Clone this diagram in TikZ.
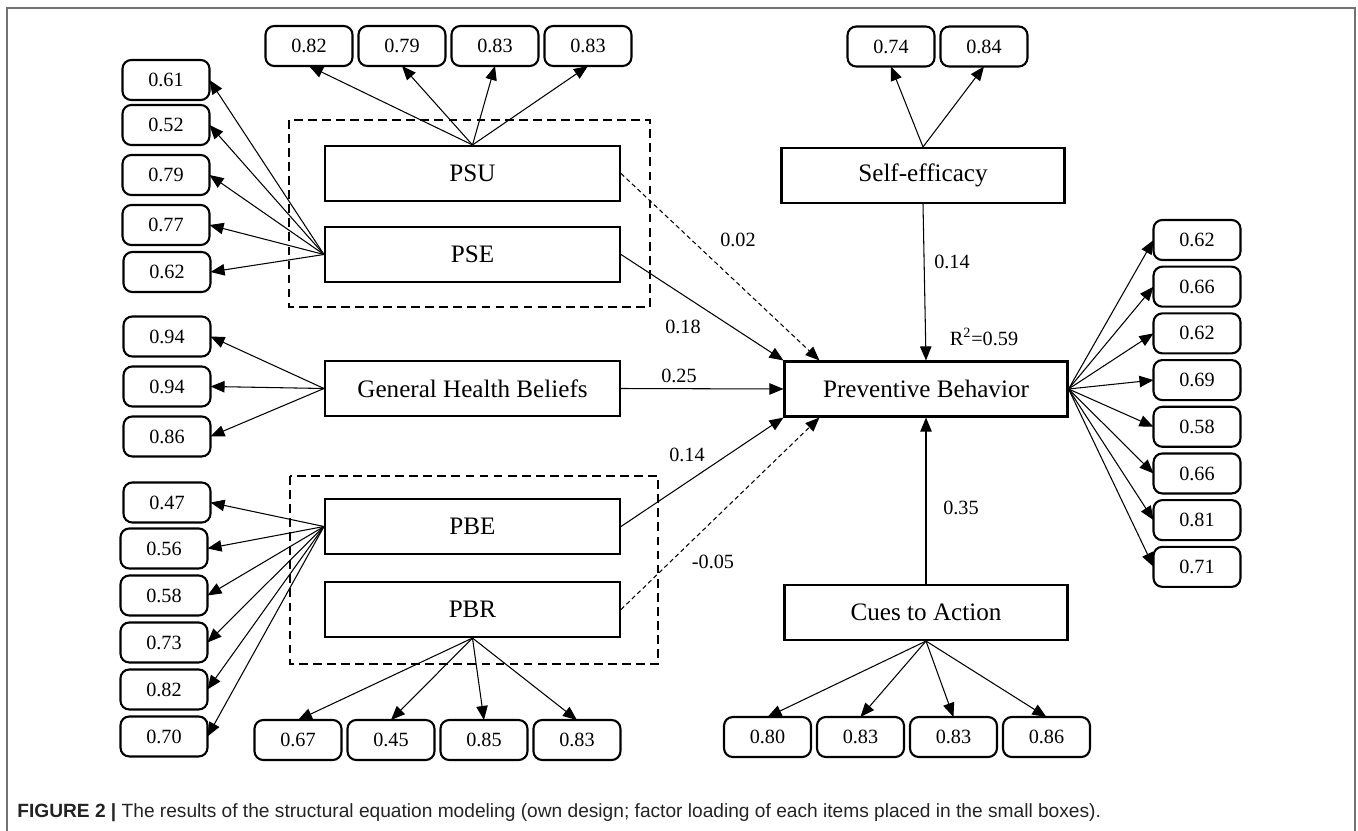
\documentclass[tikz,border=0pt]{standalone}
\usepackage{fontspec}
\setmainfont{Liberation Serif}
\newfontfamily\captionsans{Liberation Sans}
\usetikzlibrary{positioning,arrows.meta}
\definecolor{colorframe}  {RGB}{115,115,115}
\definecolor{colorcaption}{RGB}{35 ,35 ,35 }

\begin{document}
\begin{tikzpicture}[
    x=0.02cm, y=-0.02cm,
    font={\fontsize{11.5}{13}\selectfont},
    latent/.style={draw,line width=1.2pt,rectangle,minimum width=5.9cm,minimum height=1.1cm,inner sep=0pt,font={\fontsize{14.3}{16}\selectfont}},
    outcome/.style={latent,minimum width=5.66cm},
    loading/.style={draw,line width=1.2pt,rounded corners=5pt,minimum width=1.74cm,minimum height=0.8cm,inner sep=0pt,outer sep=0pt},
    coef/.style={inner sep=1pt},
    path/.style={-{Triangle[length=8pt,width=6.5pt]},line width=0.6pt},
    weak/.style={path,dash pattern=on 2.5pt off 1.8pt},
    group/.style={line width=1.1pt,dash pattern=on 5pt off 3pt},
]
    \useasboundingbox (0,0) rectangle (1358,831);

    % Frame
    \draw[colorframe,line width=1.1pt] (7,831) -- (7,8) -- (1355,8) -- (1355,831);

    % Constructs
    \node[latent] (psu) at (472.5,173.5) {PSU};
    \node[latent] (pse) at (472.5,254.5) {PSE};
    \node[latent] (ghb) at (472.5,388.5) {General Health Beliefs};
    \node[latent] (pbe) at (472.5,526.5) {PBE};
    \node[latent] (pbr) at (472.5,609.5) {PBR};
    \node[outcome] (selfeff) at (923,175.5) {Self-efficacy};
    \node[outcome] (pb)      at (926,389)   {Preventive Behavior};
    \node[outcome] (cues)    at (926,612.5) {Cues to Action};

    % Dashed groups
    \draw[group] (289,120) rectangle (650,307);
    \draw[group] (290,476) rectangle (658,664);

    % Loadings of PSU
    \node[loading] (psu1) at (309,46)           {0.82};
    \node[loading,right=0.12cm of psu1] (psu2) {0.79};
    \node[loading,right=0.12cm of psu2] (psu3) {0.83};
    \node[loading,right=0.12cm of psu3] (psu4) {0.83};

    % Loadings of PSE
    \node[loading] (pse1) at (166,80)  {0.61};
    \node[loading] (pse2) at (166,125) {0.52};
    \node[loading] (pse3) at (166,175) {0.79};
    \node[loading] (pse4) at (166,225) {0.77};
    \node[loading] (pse5) at (167,272) {0.62};

    % Loadings of General Health Beliefs
    \node[loading] (ghb1) at (167,336.5)       {0.94};
    \node[loading,below=0.2cm of ghb1] (ghb2) {0.94};
    \node[loading,below=0.2cm of ghb2] (ghb3) {0.86};

    % Loadings of PBE
    \node[loading] (pbe1) at (167,502.5) {0.47};
    \node[loading] (pbe2) at (164,548.5) {0.56};
    \node[loading,below=0.14cm of pbe2] (pbe3) {0.58};
    \node[loading,below=0.14cm of pbe3] (pbe4) {0.73};
    \node[loading,below=0.14cm of pbe4] (pbe5) {0.82};
    \node[loading,below=0.14cm of pbe5] (pbe6) {0.70};

    % Loadings of PBR
    \node[loading] (pbr1) at (298,740)          {0.67};
    \node[loading,right=0.12cm of pbr1] (pbr2) {0.45};
    \node[loading,right=0.12cm of pbr2] (pbr3) {0.85};
    \node[loading,right=0.12cm of pbr3] (pbr4) {0.83};

    % Loadings of Self-efficacy
    \node[loading] (se1) at (891,46.5)        {0.74};
    \node[loading,right=0.12cm of se1] (se2) {0.84};

    % Loadings of Cues to Action
    \node[loading] (cta1) at (767.5,737)        {0.80};
    \node[loading,right=0.12cm of cta1] (cta2) {0.83};
    \node[loading,right=0.12cm of cta2] (cta3) {0.83};
    \node[loading,right=0.12cm of cta3] (cta4) {0.86};

    % Loadings of Preventive Behavior
    \node[loading] (pb1) at (1197,240)         {0.62};
    \node[loading,below=0.134cm of pb1] (pb2) {0.66};
    \node[loading,below=0.134cm of pb2] (pb3) {0.62};
    \node[loading,below=0.134cm of pb3] (pb4) {0.69};
    \node[loading,below=0.134cm of pb4] (pb5) {0.58};
    \node[loading,below=0.134cm of pb5] (pb6) {0.66};
    \node[loading,below=0.134cm of pb6] (pb7) {0.81};
    \node[loading,below=0.134cm of pb7] (pb8) {0.71};

    % Loading arrows
    \draw[path] (psu.north) -- (psu1.south);
    \draw[path] (psu.north) -- (psu2.south);
    \draw[path] (psu.north) -- (psu3.south);
    \draw[path] (psu.north) -- (psu4.south);
    \draw[path] (pse.west) -- (pse1.east);
    \draw[path] (pse.west) -- (pse2.east);
    \draw[path] (pse.west) -- (pse3.east);
    \draw[path] (pse.west) -- (pse4.east);
    \draw[path] (pse.west) -- (pse5.east);
    \draw[path] (ghb.west) -- (ghb1.east);
    \draw[path] (ghb.west) -- (ghb2.east);
    \draw[path] (ghb.west) -- (ghb3.east);
    \draw[path] (pbe.west) -- (pbe1.east);
    \draw[path] (pbe.west) -- (pbe2.east);
    \draw[path] (pbe.west) -- (pbe3.east);
    \draw[path] (pbe.west) -- (pbe4.east);
    \draw[path] (pbe.west) -- (pbe5.east);
    \draw[path] (pbe.west) -- (pbe6.east);
    \draw[path] (pbr.south) -- (pbr1.north);
    \draw[path] (pbr.south) -- (pbr2.north);
    \draw[path] (pbr.south) -- (pbr3.north);
    \draw[path] (pbr.south) -- (pbr4.north);
    \draw[path] (selfeff.north) -- (se1.south);
    \draw[path] (selfeff.north) -- (se2.south);
    \draw[path] (cues.south) -- (cta1.north);
    \draw[path] (cues.south) -- (cta2.north);
    \draw[path] (cues.south) -- (cta3.north);
    \draw[path] (cues.south) -- (cta4.north);
    \draw[path] (pb.east) -- (pb1.west);
    \draw[path] (pb.east) -- (pb2.west);
    \draw[path] (pb.east) -- (pb3.west);
    \draw[path] (pb.east) -- (pb4.west);
    \draw[path] (pb.east) -- (pb5.west);
    \draw[path] (pb.east) -- (pb6.west);
    \draw[path] (pb.east) -- (pb7.west);
    \draw[path] (pb.east) -- (pb8.west);

    % Structural paths
    \draw[weak] (psu.east) -- (pb.165);
    \draw[path] (pse.east) -- (pb.north west);
    \draw[path] (ghb.east) -- (pb.west);
    \draw[path] (pbe.east) -- (pb.south west);
    \draw[weak] (pbr.east) -- (pb.195);
    \draw[path] (selfeff.south) -- (pb.north);
    \draw[path] (cues.north) -- (pb.south);

    % Coefficients
    \node[coef] (cpsu)  at (738,240)  {0.02};
    \node[coef] (cpse)  at (683,327)  {0.18};
    \node[coef] (cghb)  at (679,376)  {0.25};
    \node[coef] (cpbe)  at (687,455)  {0.14};
    \node[coef] (cpbr)  at (713,562)  {-0.05};
    \node[coef] (cse)   at (952,262)  {0.14};
    \node[coef] (ccues) at (961,508)  {0.35};
    \node[coef] (rsq)   at (984,337)  {R\textsuperscript{2}=0.59};

    % Caption
    \node[anchor=base west,inner sep=0pt,text=colorcaption,font={\captionsans\fontsize{10.9}{13}\selectfont}] (caption) at (17,817)
        {\textbf{FIGURE 2 |} The results of the structural equation modeling (own design; factor loading of each items placed in the small boxes).};

\end{tikzpicture}
\end{document}
